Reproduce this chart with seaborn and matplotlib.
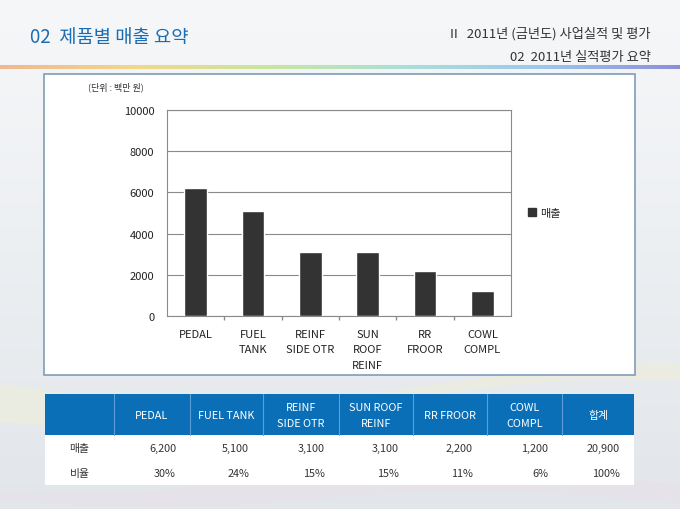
import numpy as np
import matplotlib.pyplot as plt
import matplotlib.patches as mpatches
from matplotlib.colors import LinearSegmentedColormap
import seaborn as sns

# chart data
categories = ['PEDAL', 'FUEL\nTANK', 'REINF\nSIDE OTR', 'SUN\nROOF\nREINF', 'RR\nFROOR', 'COWL\nCOMPL']
sales = [6200, 5100, 3100, 3100, 2200, 1200]

# table data
table_heads = ['PEDAL', 'FUEL TANK', 'REINF\nSIDE OTR', 'SUN ROOF\nREINF', 'RR FROOR', 'COWL\nCOMPL', '합계']
ratios = ['30%', '24%', '15%', '15%', '11%', '6%', '100%']
row_names = ['매출', '비율']

sns.set_theme(style='white')
plt.rcParams['font.family'] = ['Noto Sans CJK KR', 'DejaVu Sans']

fig = plt.figure(figsize=(6.8, 5.1), dpi=100)

# slide background in pixel coordinates
bg = fig.add_axes([0, 0, 1, 1])
bg.set_xlim(0, 680)
bg.set_ylim(510, 0)
bg.axis('off')
grad = np.linspace(0, 1, 256).reshape(-1, 1)
bg_cmap = LinearSegmentedColormap.from_list('bg', ['#f6f7f9', '#eceff2', '#e2e6ea'])
bg.imshow(grad, cmap=bg_cmap, aspect='auto', extent=(0, 680, 510, 0), zorder=0)

# rainbow rule under the header
rb_cmap = LinearSegmentedColormap.from_list(
    'rb', ['#f0b890', '#f2d88a', '#c8e6a0', '#a8e0d8', '#9cc8ec', '#8e8ed8'])
bg.imshow(np.linspace(0, 1, 256).reshape(1, -1), cmap=rb_cmap, aspect='auto',
          extent=(0, 680, 70, 66), zorder=1)

# soft swoosh near the bottom
xs = np.linspace(0, 680, 200)
bg.fill_between(xs, 385 + 20 * np.sin(xs / 140), 405 + 25 * np.sin(xs / 160 + 0.8),
                color='#f6f0c8', alpha=0.3, lw=0, zorder=1)
bg.fill_between(xs, 480 + 15 * np.sin(xs / 120 + 1), 500 + 8 * np.sin(xs / 100),
                color='#f0d8e8', alpha=0.25, lw=0, zorder=1)

# header texts
bg.text(30, 38, '02  제품별 매출 요약', color='#1a6db3', fontsize=13.5, va='center', zorder=3)
bg.text(651, 34, 'II   2011년 (금년도) 사업실적 및 평가', color='#333333', fontsize=9.5,
        ha='right', va='center', zorder=3)
bg.text(651, 57, '02  2011년 실적평가 요약', color='#333333', fontsize=9.5,
        ha='right', va='center', zorder=3)

# chart panel
bg.add_patch(mpatches.Rectangle((44, 75), 591, 301, fc='white', ec='#7f9db9', lw=1.2, zorder=2))
bg.text(88, 87, '(단위 : 백만 원)', fontsize=6.5, color='#333333', va='center', zorder=3)

# table
col_edges = [45, 114, 190, 263, 339, 413, 487, 562, 634]
bg.add_patch(mpatches.Rectangle((45, 395), 589, 41, fc='#0b6fb8', ec='none', zorder=2))
bg.add_patch(mpatches.Rectangle((45, 436), 589, 50, fc='white', ec='none', zorder=2))
for xe in col_edges[1:-1]:
    bg.plot([xe, xe], [395, 436], color='#5b9fd6', lw=0.8, zorder=3)
for i, head in enumerate(table_heads):
    cx = (col_edges[i + 1] + col_edges[i + 2]) / 2
    bg.text(cx, 416, head, color='white', fontsize=7.8, ha='center', va='center',
            linespacing=1.7, zorder=4)
total = sum(sales)
sales_txt = [f'{v:,}' for v in sales] + [f'{total:,}']
for r, (name, vals) in enumerate(zip(row_names, [sales_txt, ratios])):
    y = 449 + r * 25
    bg.text((col_edges[0] + col_edges[1]) / 2, y, name, fontsize=7.8, color='#333333',
            ha='center', va='center', zorder=4)
    for i, v in enumerate(vals):
        bg.text(col_edges[i + 2] - 14, y, v, fontsize=7.8, color='#333333',
                ha='right', va='center', zorder=4)

# bar chart
ax = fig.add_axes([167 / 680, (510 - 317) / 510, 344 / 680, 206 / 510])
ax.set_zorder(5)
sns.barplot(x=categories, y=sales, color='#333333', saturation=1, width=0.4, ax=ax, zorder=3)
ax.set_xlim(-0.5, 5.5)
ax.set_ylim(0, 10000)
ax.set_yticks(range(0, 10001, 2000))
ax.yaxis.grid(True, color='#8a8a8a', lw=0.8)
ax.set_axisbelow(True)
for sp in ax.spines.values():
    sp.set_color('#8a8a8a')
    sp.set_linewidth(0.8)
ax.tick_params(axis='y', length=0, pad=9, labelsize=8, labelcolor='#222222')
ax.tick_params(axis='x', which='major', length=0, pad=9, labelsize=8, labelcolor='#222222')
for lbl in ax.get_xticklabels():
    lbl.set_linespacing(1.7)
    lbl.set_verticalalignment('top')
ax.set_xticks(np.arange(0.5, 5.5, 1), minor=True)
ax.tick_params(axis='x', which='minor', length=3, color='#8a8a8a', bottom=True)
ax.set_xlabel('')
ax.set_ylabel('')

handle = mpatches.Patch(color='#333333', label='매출')
ax.legend(handles=[handle], loc='center left', bbox_to_anchor=(1.02, 0.5), frameon=False,
          fontsize=8, handlelength=0.7, handleheight=0.7, handletextpad=0.4)

fig.savefig('out.png', dpi=100)
